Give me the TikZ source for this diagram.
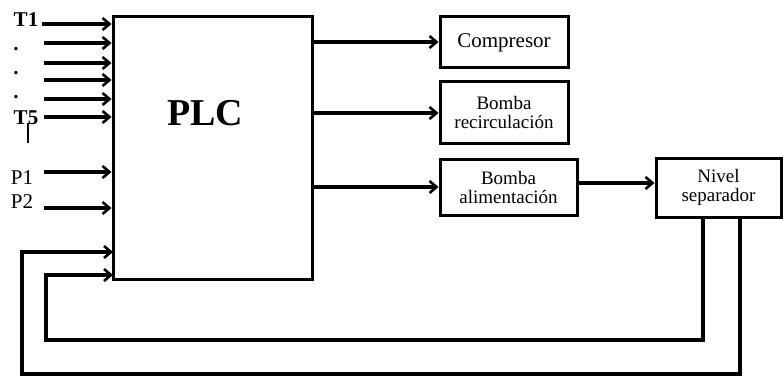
\documentclass[tikz,border=0pt]{standalone}
\usepackage{fontspec}
\setmainfont{Liberation Serif}
\usetikzlibrary{arrows.meta}
\begin{document}
\begin{tikzpicture}[x=1pt,y=-1pt,
  box/.style={draw,line width=3pt,inner sep=0pt,align=center,font=\fontsize{19}{21}\selectfont},
  arr/.style={line width=3.2pt,-{Straight Barb[length=7pt,width=12pt,line width=2.6pt]}},
  lab/.style={inner sep=0pt,font=\fontsize{21}{22}\selectfont}]
\useasboundingbox (0,0) rectangle (783,377);
% main blocks
\node[box,minimum width=199pt,minimum height=262pt] (plc) at (212.5,148) {};
\node[inner sep=0pt,font=\fontsize{38}{40}\selectfont\bfseries] (plctext) at (205,113) {PLC};
\node[box,minimum width=128pt,minimum height=51pt,font=\fontsize{21}{23}\selectfont] (comp) at (504,42.5) {Compresor};
\node[box,minimum width=128pt,minimum height=61pt] (recirc) at (504,112.5) {Bomba\\[-2pt]recirculación};
\node[box,minimum width=137pt,minimum height=56pt] (alim) at (508.5,187) {Bomba\\[-2pt]alimentación};
\node[box,minimum width=125pt,minimum height=59pt] (nivel) at (718.5,187.5) {Nivel\\[-2pt]separador};
% input labels
\node[lab,font=\fontsize{21}{22}\selectfont\bfseries] (t1) at (26,20) {T1};
\node[lab,font=\fontsize{21}{22}\selectfont\bfseries,anchor=base] (d1) at (16,51) {.};
\node[lab,font=\fontsize{21}{22}\selectfont\bfseries,anchor=base] (d2) at (16,75) {.};
\node[lab,font=\fontsize{21}{22}\selectfont\bfseries,anchor=base] (d3) at (16,99) {.};
\node[lab,font=\fontsize{21}{22}\selectfont\bfseries] (t5) at (26,118) {T5};
\node[lab] (p1) at (22,178) {P1};
\node[lab] (p2) at (22,202) {P2};
\coordinate (bar1) at (28,123);
\coordinate (bar2) at (28,143);
\draw[line width=2.4pt] (bar1) -- (bar2);
% input arrow starts
\coordinate (i1) at (42,24);
\coordinate (i2) at (44,43);
\coordinate (i3) at (44,63);
\coordinate (i4) at (44,80);
\coordinate (i5) at (44,99);
\coordinate (i6) at (44,117);
\coordinate (i7) at (44,172);
\coordinate (i8) at (44,208);
\foreach \c in {i1,i2,i3,i4,i5,i6,i7,i8}
  \draw[arr] (\c) -- (\c -| plc.west);
% outputs
\coordinate (o1) at (312,42);
\coordinate (o2) at (312,113);
\coordinate (o3) at (312,187);
\draw[arr] (o1) -- (o1 -| comp.west);
\draw[arr] (o2) -- (o2 -| recirc.west);
\draw[arr] (o3) -- (o3 -| alim.west);
\coordinate (a1) at (577,183);
\draw[arr] (a1) -- (a1 -| nivel.west);
% feedback
\coordinate (fa) at (703,217);
\coordinate (fb) at (740,217);
\coordinate (fai) at (113,275);
\coordinate (fbi) at (113,252);
\draw[arr,line join=miter] (fa) |- (46,340) |- (fai);
\draw[arr,line join=miter] (fb) |- (22,374) |- (fbi);
\end{tikzpicture}
\end{document}
